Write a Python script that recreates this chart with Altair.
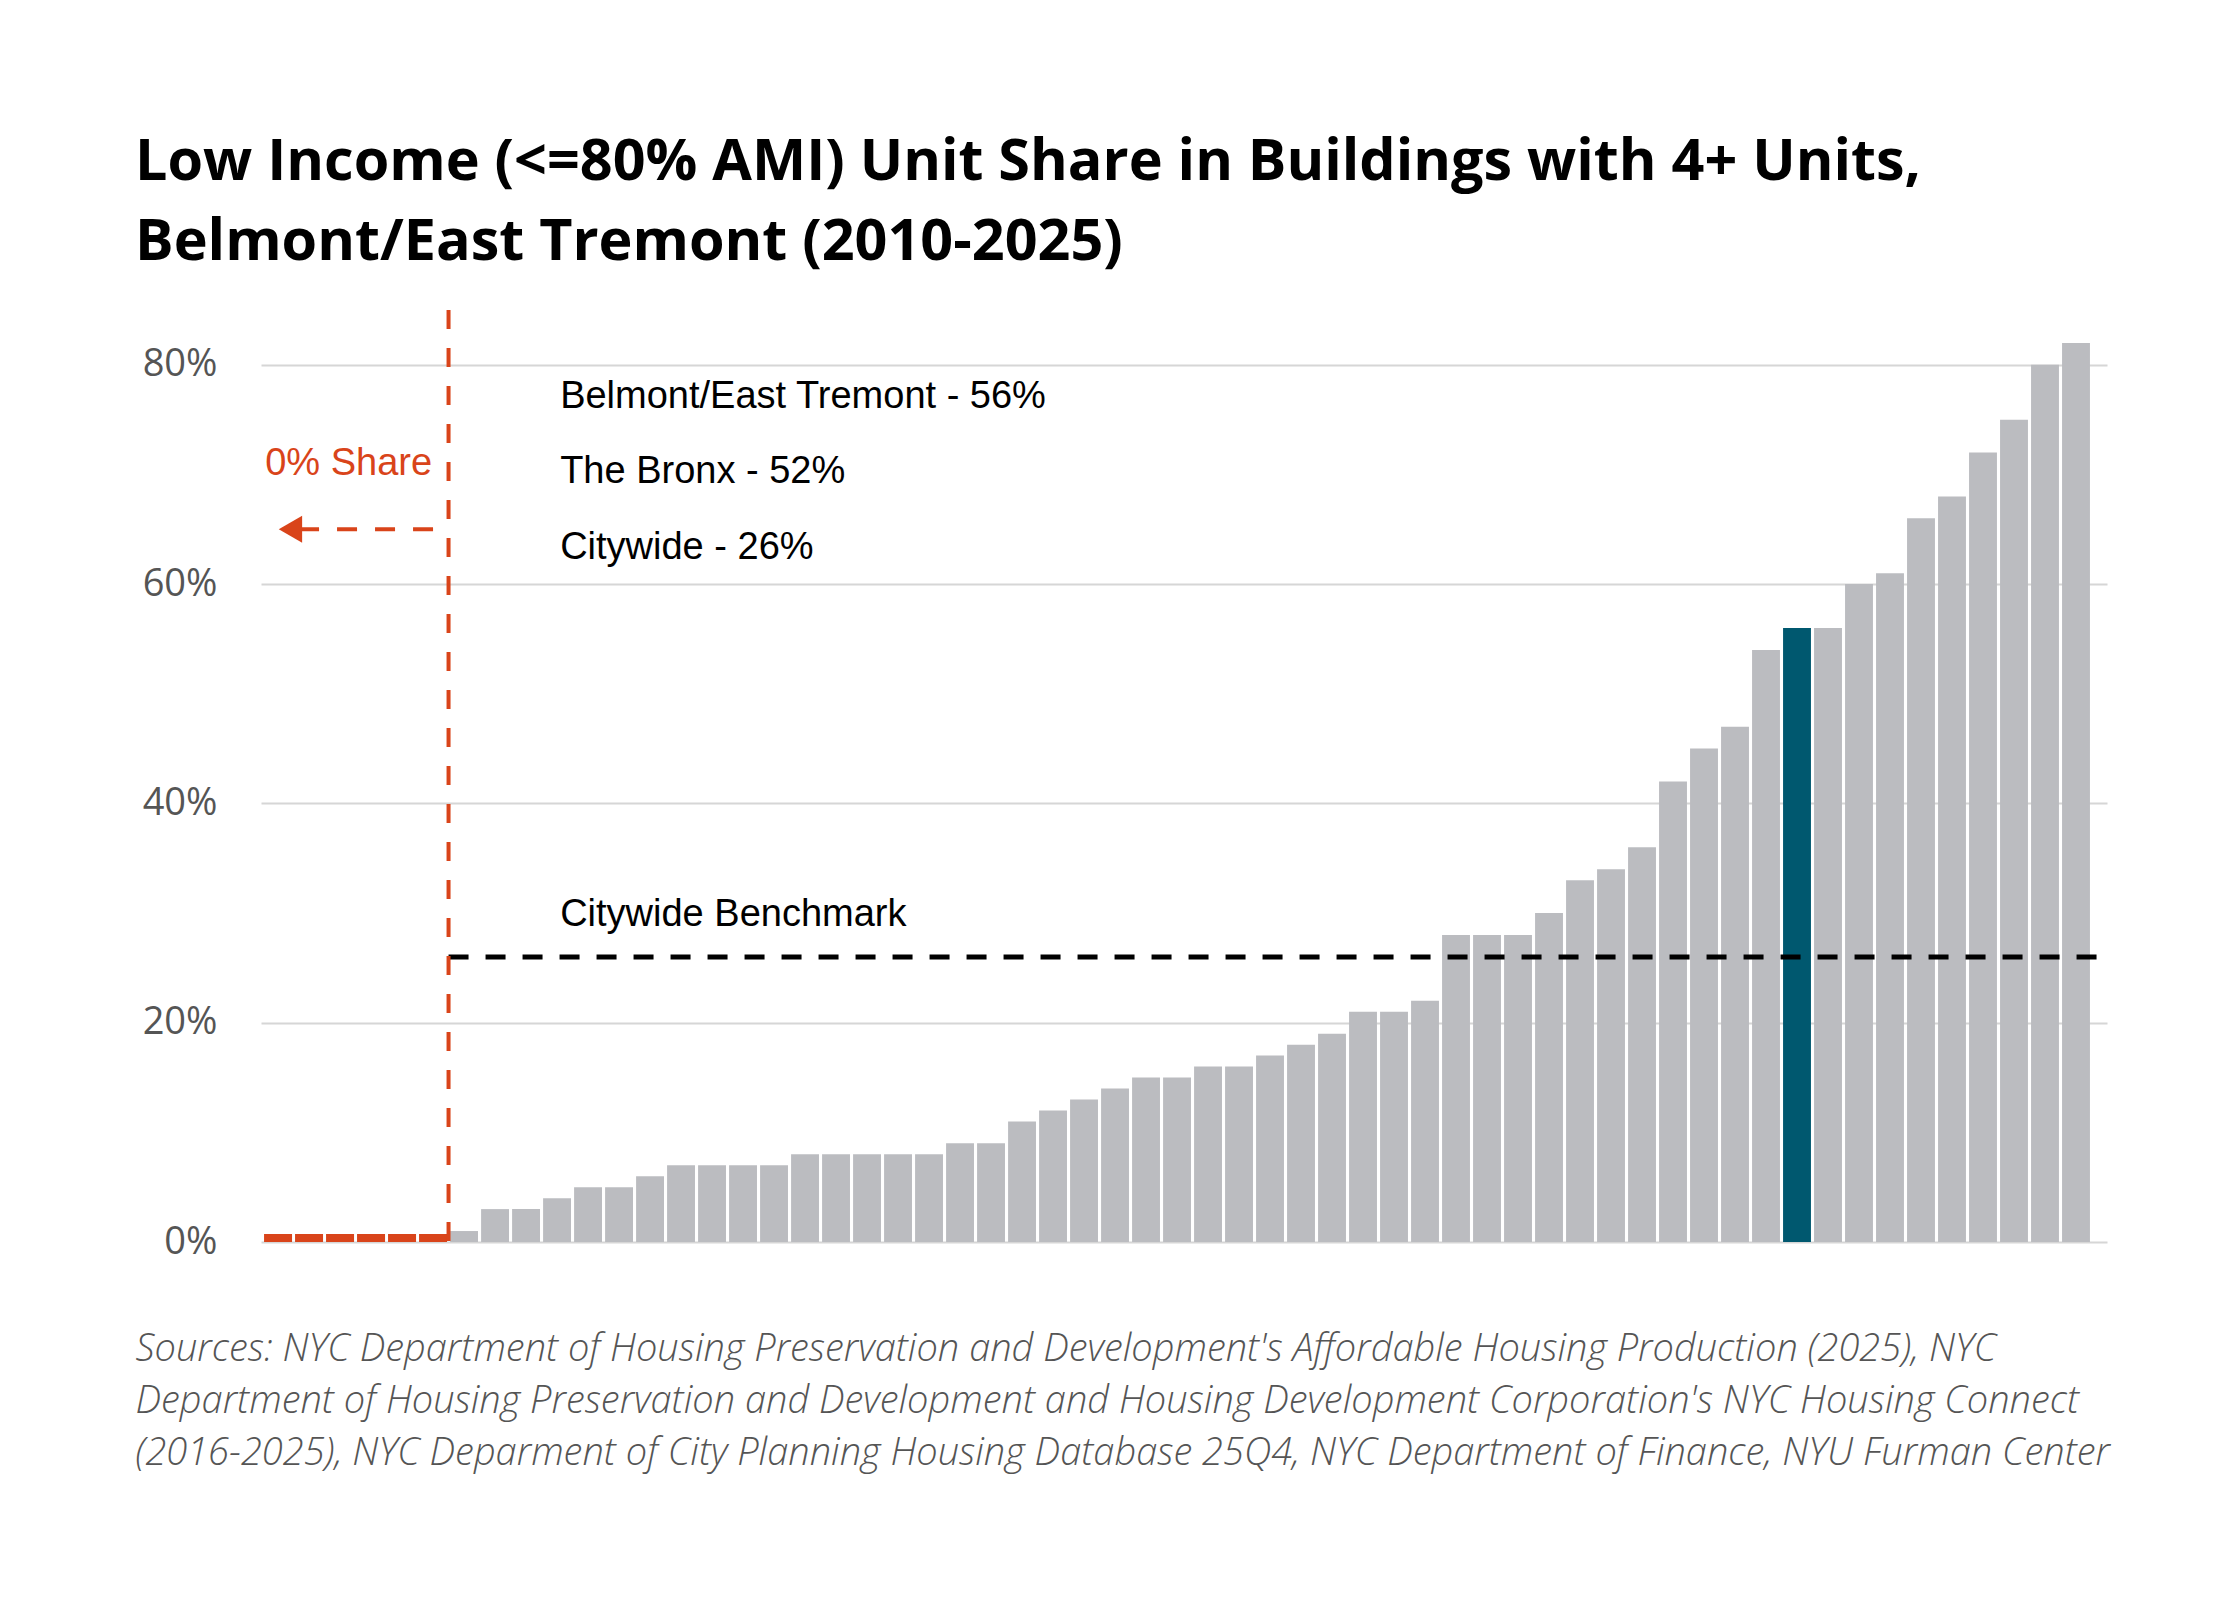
import altair as alt
import pandas as pd

# ---- data ----
shares = [0, 0, 0, 0, 0, 0,
          1, 3, 3, 4, 5, 5, 6, 7, 7, 7, 7, 8, 8, 8, 8, 8, 9, 9, 11, 12, 13, 14,
          15, 15, 16, 16, 17, 18, 19, 21, 21, 22, 28, 28, 28, 30, 33, 34, 36,
          42, 45, 47, 54, 56, 56, 60, 61, 66, 68, 72, 75, 80, 82]
focus_position = 49          # Belmont/East Tremont
benchmark = 26
note_texts = ["Belmont/East Tremont - 56%", "The Bronx - 52%", "Citywide - 26%"]
note_levels = [77.1, 70.2, 63.3]
benchmark_label = "Citywide Benchmark"
benchmark_label_level = 29.8
zero_label = "0% Share"
zero_label_level = 71.0
arrow_level = 65
y_ticks = [0, 20, 40, 60, 80]

title_lines = ["Low Income (<=80% AMI) Unit Share in Buildings with 4+ Units,",
               "Belmont/East Tremont (2010-2025)"]
source_lines = [
    "Sources: NYC Department of Housing Preservation and Development's Affordable Housing Production (2025), NYC",
    "Department of Housing Preservation and Development and Housing Development Corporation's NYC Housing Connect",
    "\u2002(2016-2025), NYC Deparment of City Planning Housing Database 25Q4, NYC Department of Finance, NYU Furman Center",
]

RED = "#d9441a"
GREY = "#bbbcc0"
TEAL = "#00586f"

n = len(shares)
zero_count = sum(1 for s in shares if s == 0)

df = pd.DataFrame({"pos": range(n), "share": shares})
df["x0"] = df["pos"] + 0.05
df["x1"] = df["pos"] + 0.95
df["xc"] = df["pos"] + 0.5
df["base"] = 0
df["group"] = ["focus" if p == focus_position else "other" for p in df["pos"]]

bars_df = df[df["share"] > 0]
zeros_df = df[df["share"] == 0]

x_scale = alt.Scale(domain=[-0.05, n + 0.5], nice=False, zero=False)
y_scale = alt.Scale(domain=[0, 85], nice=False)

x_axis = alt.Axis(labels=False, ticks=False, domain=False, grid=False,
                  title=source_lines, titleAnchor="start", titleAlign="left",
                  titleBaseline="alphabetic", titleX=-126, titleY=118,
                  titleFont="Open Sans", titleFontSize=38, titleFontStyle="italic",
                  titleFontWeight=300, titleColor="#555555",
                  titleLineHeight=52)
y_axis = alt.Axis(values=y_ticks, labelExpr="datum.value + '%'", domain=False,
                  ticks=False, tickSize=0, labelPadding=44, labelFont="Open Sans",
                  labelFontSize=38, labelColor="#555555", gridColor="#d6d6d6",
                  gridWidth=2, title=None)

bars = alt.Chart(bars_df).mark_bar().encode(
    x=alt.X("x0:Q", scale=x_scale, axis=x_axis),
    x2="x1:Q",
    y=alt.Y("share:Q", scale=y_scale, axis=y_axis),
    y2="base:Q",
    color=alt.Color("group:N", scale=alt.Scale(domain=["focus", "other"],
                                               range=[TEAL, GREY]), legend=None),
)

zero_marks = alt.Chart(zeros_df).mark_tick(
    orient="horizontal", color=RED, thickness=8, size=28, yOffset=-4, opacity=1
).encode(x="xc:Q", y="share:Q")

edge_df = pd.DataFrame({"x": [zero_count], "top": [85], "bottom": [0]})
red_vline = alt.Chart(edge_df).mark_rule(
    color=RED, strokeWidth=4, strokeDash=[19, 19]
).encode(x="x:Q", y="top:Q", y2="bottom:Q")

bench_df = pd.DataFrame({"x": [zero_count], "x2": [n + 0.5], "y": [benchmark]})
bench_line = alt.Chart(bench_df).mark_rule(
    color="black", strokeWidth=5, strokeDash=[20, 17]
).encode(x="x:Q", x2="x2:Q", y="y:Q")

arrow_df = pd.DataFrame({"x": [zero_count - 0.5], "x2": [0.9], "y": [arrow_level]})
arrow_line = alt.Chart(arrow_df).mark_rule(
    color=RED, strokeWidth=4, strokeDash=[20, 18]
).encode(x="x:Q", x2="x2:Q", y="y:Q")
head_df = pd.DataFrame({"x": [0.9], "y": [arrow_level]})
arrow_head = alt.Chart(head_df).mark_point(
    shape="triangle-left", filled=True, color=RED, size=729, opacity=1
).encode(x="x:Q", y="y:Q")

notes_df = pd.DataFrame({"text": note_texts + [benchmark_label],
                         "y": note_levels + [benchmark_label_level],
                         "x": [9.6] * (len(note_texts) + 1)})
notes = alt.Chart(notes_df).mark_text(
    align="left", baseline="middle", font="Liberation Sans", fontSize=38,
    color="black"
).encode(x="x:Q", y="y:Q", text="text:N")

zero_df = pd.DataFrame({"text": [zero_label], "x": [5.47], "y": [zero_label_level]})
zero_text = alt.Chart(zero_df).mark_text(
    align="right", baseline="middle", font="Liberation Sans", fontSize=38,
    color=RED
).encode(x="x:Q", y="y:Q", text="text:N")

chart = alt.layer(
    bars, zero_marks, bench_line, red_vline, arrow_line, arrow_head, notes, zero_text
).properties(
    width=1846,
    height=932,
    title=alt.TitleParams(text=title_lines, anchor="start", frame="group",
                          dx=-126, offset=36, font="Open Sans", fontSize=57.5,
                          fontWeight="bold", color="black", lineHeight=80),
    autosize=alt.AutoSizeParams(type="none"),
    padding={"left": 253, "top": 302, "right": 100, "bottom": 330},
    background="white",
).configure_view(stroke=None)

chart.save("out.html", embed_options={"renderer": "svg", "actions": False})
